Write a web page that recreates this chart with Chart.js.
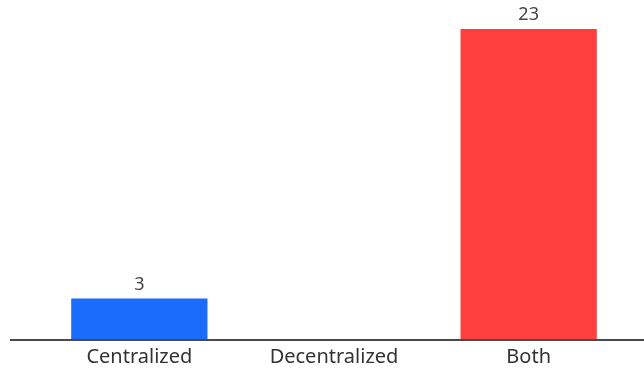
<!DOCTYPE html>
<html>
<head>
<meta charset="utf-8">
<script src="https://cdn.jsdelivr.net/npm/chart.js@4"></script>
<style>
  html, body { margin: 0; padding: 0; background: #fff; }
  #wrap { width: 644px; height: 368px; position: relative; }
</style>
</head>
<body>
<div id="wrap"><canvas id="chart"></canvas></div>
<script>
// Data
const categories = ["Centralized", "Decentralized", "Both"];
const counts = [3, 0, 23];
const barColors = ["#1b6bfd", "#1b6bfd", "#fe3f3d"];

// Value labels above bars + baseline running full width
const extrasPlugin = {
  id: "extras",
  afterDatasetsDraw(chart) {
    const { ctx, chartArea } = chart;
    const meta = chart.getDatasetMeta(0);
    ctx.save();
    ctx.strokeStyle = "#4a4a4a";
    ctx.lineWidth = 2;
    ctx.beginPath();
    ctx.moveTo(10, chartArea.bottom + 1);
    ctx.lineTo(chart.width, chartArea.bottom + 1);
    ctx.stroke();

    ctx.fillStyle = "#444";
    ctx.font = "18px 'Noto Sans', sans-serif";
    ctx.textAlign = "center";
    ctx.textBaseline = "bottom";
    meta.data.forEach((bar, i) => {
      if (!counts[i]) return;
      ctx.fillText(String(counts[i]), bar.x, bar.y - 5);
    });
    ctx.restore();
  },
};

new Chart(document.getElementById("chart"), {
  type: "bar",
  data: {
    labels: categories,
    datasets: [{
      data: counts,
      backgroundColor: barColors,
      borderWidth: 0,
      categoryPercentage: 0.7,
      barPercentage: 1.0,
    }],
  },
  options: {
    responsive: true,
    maintainAspectRatio: false,
    animation: false,
    layout: { padding: { top: 29, left: 42, right: 18, bottom: -7 } },
    plugins: { legend: { display: false }, tooltip: { enabled: false } },
    scales: {
      x: {
        grid: { display: false, drawTicks: false },
        border: { display: false },
        ticks: {
          color: "#333",
          font: { size: 20, family: "'Noto Sans', sans-serif" },
          padding: 6,
        },
      },
      y: {
        display: false,
        min: 0,
        max: 23,
      },
    },
  },
  plugins: [extrasPlugin],
});
</script>
</body>
</html>
